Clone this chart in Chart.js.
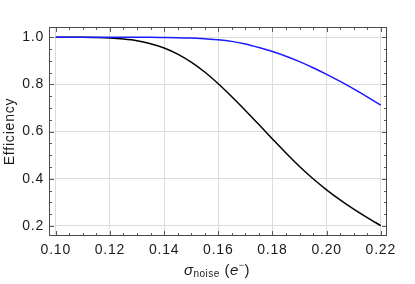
<!DOCTYPE html>
<html>
<head>
<meta charset="utf-8">
<script src="https://cdn.jsdelivr.net/npm/chart.js@4"></script>
<style>
  html, body { margin: 0; padding: 0; background: #fff; }
  #wrap { width: 415px; height: 284px; }
</style>
</head>
<body>
<div id="wrap"><canvas id="chart" width="415" height="284"></canvas></div>
<script>
const sigma = [0.100, 0.105, 0.110, 0.115, 0.120, 0.125, 0.130, 0.135, 0.140, 0.145, 0.150, 0.155,
  0.160, 0.165, 0.170, 0.175, 0.180, 0.185, 0.190, 0.195, 0.200, 0.205, 0.210, 0.215, 0.220]
const effBlack = [1.000, 1.000, 1.000, 0.999, 0.997, 0.993, 0.986, 0.973, 0.955, 0.929, 0.895, 0.853,
  0.803, 0.748, 0.690, 0.630, 0.569, 0.509, 0.452, 0.400, 0.353, 0.310, 0.271, 0.235, 0.201]
const effBlue = [1.000, 1.000, 1.000, 1.000, 1.000, 1.000, 1.000, 1.000, 0.999, 0.998, 0.997, 0.994,
  0.990, 0.983, 0.972, 0.957, 0.940, 0.920, 0.897, 0.871, 0.843, 0.813, 0.781, 0.747, 0.712]
const xTicks = [0.10, 0.12, 0.14, 0.16, 0.18, 0.20, 0.22]
const yTicks = [0.2, 0.4, 0.6, 0.8, 1.0]

const font = 'Liberation Sans, Arial, Helvetica, sans-serif'

// Mathematica-like frame with inward major/minor ticks
const frameTicks = {
  id: 'frameTicks',
  beforeDraw(chart) {
    chart.ctx.letterSpacing = '0.8px'
  },
  afterDraw(chart) {
    const { ctx, chartArea: a, scales } = chart
    const L = Math.round(a.left) + 0.5, R = Math.round(a.right) - 0.5
    const T = Math.round(a.top) + 0.5, B = Math.round(a.bottom) - 0.5
    ctx.save()
    ctx.strokeStyle = '#5a5a5a'
    ctx.lineWidth = 1
    ctx.beginPath()
    for (let i = 0; i <= 24; i++) {
      const v = 0.10 + i * 0.005
      const px = Math.round(scales.x.getPixelForValue(v)) + 0.5
      const len = i % 4 === 0 ? 4.5 : 2.5
      ctx.moveTo(px, B); ctx.lineTo(px, B - len)
      ctx.moveTo(px, T); ctx.lineTo(px, T + len)
    }
    for (let i = 0; i <= 16; i++) {
      const v = 0.2 + i * 0.05
      const py = Math.round(scales.y.getPixelForValue(v)) + 0.5
      const len = i % 4 === 0 ? 4.5 : 2.5
      ctx.moveTo(L, py); ctx.lineTo(L + len, py)
      ctx.moveTo(R, py); ctx.lineTo(R - len, py)
    }
    ctx.stroke()
    ctx.strokeStyle = '#4a4a4a'
    ctx.strokeRect(L, T, R - L, B - T)

    // x axis title: sigma_noise (e^-)
    ctx.fillStyle = '#1a1a1a'
    ctx.letterSpacing = '0.5px'
    ctx.textBaseline = 'alphabetic'
    const parts = [
      { t: '\u03C3', f: 'italic 15px ' + font, dy: 0 },
      { t: 'noise', f: '10px ' + font, dy: 2 },
      { t: ' (', f: '15px ' + font, dy: 0 },
      { t: 'e', f: 'italic 15px ' + font, dy: 0 },
      { t: '\u2212', f: '9px ' + font, dy: -7 },
      { t: ')', f: '15px ' + font, dy: 0 }
    ]
    let total = 0
    parts.forEach(p => { ctx.font = p.f; p.w = ctx.measureText(p.t).width; total += p.w })
    let x = 217 - total / 2
    const base = 275
    parts.forEach(p => {
      ctx.font = p.f
      ctx.fillText(p.t, x, base + p.dy)
      x += p.w
    })
    ctx.restore()
  }
}

const ctx = document.getElementById('chart').getContext('2d')
const myChart = new Chart(ctx, {
  type: 'line',
  data: {
    datasets: [
      {
        label: 'blue',
        data: sigma.map((s, i) => ({ x: s, y: effBlue[i] })),
        borderColor: '#1a1aff',
        borderWidth: 1.5,
        pointRadius: 0,
        cubicInterpolationMode: 'monotone',
        fill: false,
      },
      {
        label: 'black',
        data: sigma.map((s, i) => ({ x: s, y: effBlack[i] })),
        borderColor: '#000000',
        borderWidth: 1.5,
        pointRadius: 0,
        cubicInterpolationMode: 'monotone',
        fill: false,
      },
    ],
  },
  options: {
    responsive: false,
    animation: false,
    events: [],
    layout: { padding: { left: 0, right: 28, top: 27, bottom: 0 } },
    plugins: {
      legend: { display: false },
      tooltip: { enabled: false },
    },
    scales: {
      x: {
        type: 'linear',
        min: 0.0975,
        max: 0.2223,
        afterBuildTicks: (scale) => { scale.ticks = xTicks.map(v => ({ value: v })) },
        afterFit: (scale) => { scale.height = 48 },
        ticks: {
          padding: 6,
          color: '#1a1a1a',
          font: { family: font, size: 14 },
          maxRotation: 0,
          callback: (v) => Number(v).toFixed(2),
        },
        grid: { color: '#dcdcdc', lineWidth: 1, drawTicks: false },
        border: { display: false },
      },
      y: {
        type: 'linear',
        min: 0.157,
        max: 1.044,
        afterBuildTicks: (scale) => { scale.ticks = yTicks.map(v => ({ value: v })) },
        afterFit: (scale) => { scale.width = 49 },
        ticks: {
          padding: 5,
          color: '#1a1a1a',
          font: { family: font, size: 14 },
          callback: (v) => Number(v).toFixed(1),
        },
        grid: { color: '#dcdcdc', lineWidth: 1, drawTicks: false },
        border: { display: false },
        title: {
          display: true,
          text: 'Efficiency',
          color: '#1a1a1a',
          font: { family: font, size: 14 },
          padding: { top: 2, bottom: 0 },
        },
      },
    },
  },
  plugins: [frameTicks],
})
</script>
</body>
</html>
